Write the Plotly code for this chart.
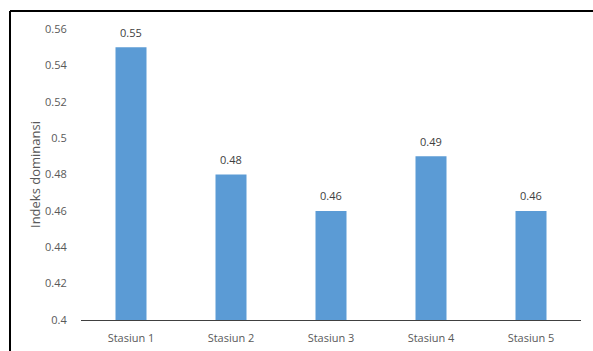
import plotly.graph_objects as go

categories = ["Stasiun 1", "Stasiun 2", "Stasiun 3", "Stasiun 4", "Stasiun 5"]
values = [0.55, 0.48, 0.46, 0.49, 0.46]
label_text = ["0.55", "0.48", "0.46", "0.49", "0.46"]
y_ticks = [0.4, 0.42, 0.44, 0.46, 0.48, 0.5, 0.52, 0.54, 0.56]
y_tick_text = ["0.4", "0.42", "0.44", "0.46", "0.48", "0.5", "0.52", "0.54", "0.56"]

FONT = "Open Sans, sans-serif"

fig = go.Figure(go.Bar(
    x=categories, y=values, base=0,
    marker=dict(color="#5B9BD5", line=dict(width=0)),
    width=0.31,
    cliponaxis=False,
))

for c, v, t in zip(categories, values, label_text):
    fig.add_annotation(x=c, y=v, text=t, showarrow=False, yanchor="middle", yshift=15,
                       font=dict(color="#404040", size=11, family=FONT))

fig.update_layout(
    width=593, height=351,
    margin=dict(l=81, r=12, t=29, b=31, autoexpand=False),
    paper_bgcolor="white", plot_bgcolor="white",
    showlegend=False,
    font=dict(family=FONT, color="#595959", size=11),
    xaxis=dict(
        automargin=False,
        showline=True, linecolor="#404040", linewidth=1.3,
        ticks="outside", ticklen=8, tickcolor="rgba(0,0,0,0)",
        tickfont=dict(size=11, color="#595959"),
        range=[-0.5, 4.5], showgrid=False,
    ),
    yaxis=dict(
        automargin=False,
        range=[0.4, 0.56], tickvals=y_ticks, ticktext=y_tick_text,
        showgrid=False, zeroline=False, showline=False,
        ticks="outside", ticklen=11, tickcolor="rgba(0,0,0,0)",
        tickfont=dict(size=11, color="#595959"),
        title=dict(text="Indeks dominansi", font=dict(size=13, color="#595959"), standoff=1),
    ),
    shapes=[
        dict(type="line", xref="paper", yref="paper", x0=-0.142, x1=1.03, y0=1.062, y1=1.062,
             line=dict(color="black", width=2)),
        dict(type="line", xref="paper", yref="paper", x0=-0.142, x1=-0.142, y0=1.062, y1=-0.12,
             line=dict(color="black", width=2)),
    ],
)

fig.write_html("out.html")
